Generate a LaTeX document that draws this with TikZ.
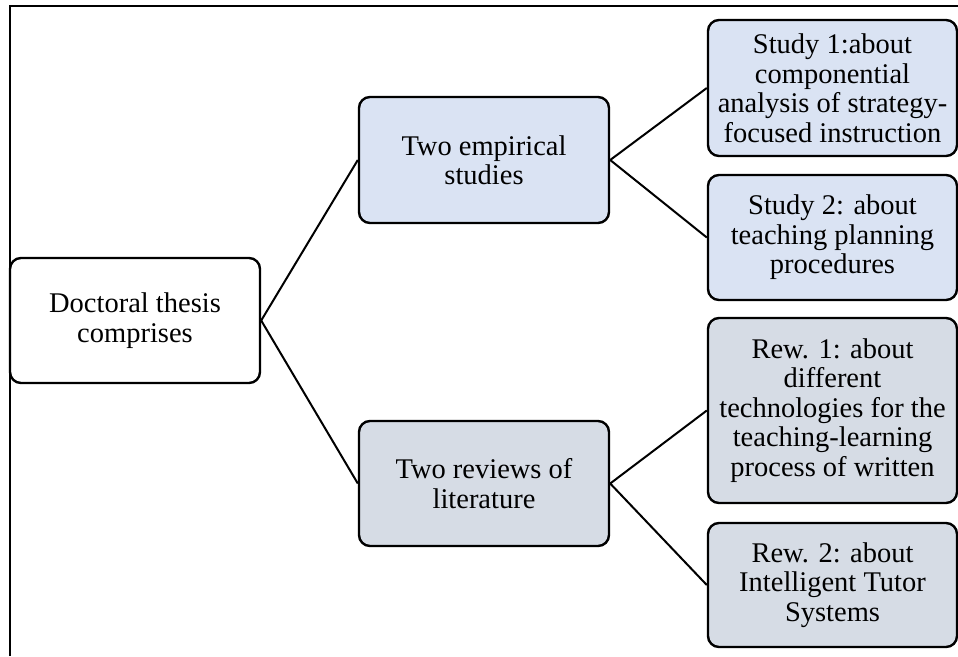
\documentclass[tikz,border=0pt]{standalone}
\usepackage{fontspec}
\setmainfont{Liberation Serif}
\definecolor{blueFill}{RGB}{218,227,243}
\definecolor{grayFill}{RGB}{214,220,229}
\tikzset{
  box/.style={draw=black, line width=2.4pt, rounded corners=11pt, inner sep=0pt,
    align=center, font=\fontsize{28.5}{29.5}\selectfont},
  link/.style={draw=black, line width=2pt},
}
\begin{document}
\begin{tikzpicture}[x=1pt,y=-1pt]
\useasboundingbox (0,0) rectangle (958,656);
\draw[line width=2pt] (10,656) -- (10,6) -- (958,6);
\node[box, fill=white, minimum width=250pt, minimum height=125pt] (root) at (135,320.5) {Doctoral thesis\\comprises};
\node[box, fill=blueFill, minimum width=250pt, minimum height=126pt] (emp) at (484,160) {Two empirical\\studies};
\node[box, fill=grayFill, minimum width=250pt, minimum height=125pt] (rev) at (484,483.5) {Two reviews of\\literature};
\node[box, fill=blueFill, minimum width=249pt, minimum height=136pt] (s1) at (832.5,88) {Study 1:about\\componential\\analysis of strategy-\\focused instruction};
\node[box, fill=blueFill, minimum width=249pt, minimum height=125pt] (s2) at (832.5,237.5) {Study 2: about\\teaching planning\\procedures};
\node[box, fill=grayFill, minimum width=249pt, minimum height=185pt] (r1) at (832.5,410.5) {Rew. 1: about\\different\\technologies for the\\teaching-learning\\process of written};
\node[box, fill=grayFill, minimum width=249pt, minimum height=124pt] (r2) at (832.5,585) {Rew. 2: about\\Intelligent Tutor\\Systems};
\draw[link] (root.east) -- (emp.west);
\draw[link] (root.east) -- (rev.west);
\draw[link] (emp.east) -- (s1.west);
\draw[link] (emp.east) -- (s2.west);
\draw[link] (rev.east) -- (r1.west);
\draw[link] (rev.east) -- (r2.west);
\end{tikzpicture}
\end{document}
